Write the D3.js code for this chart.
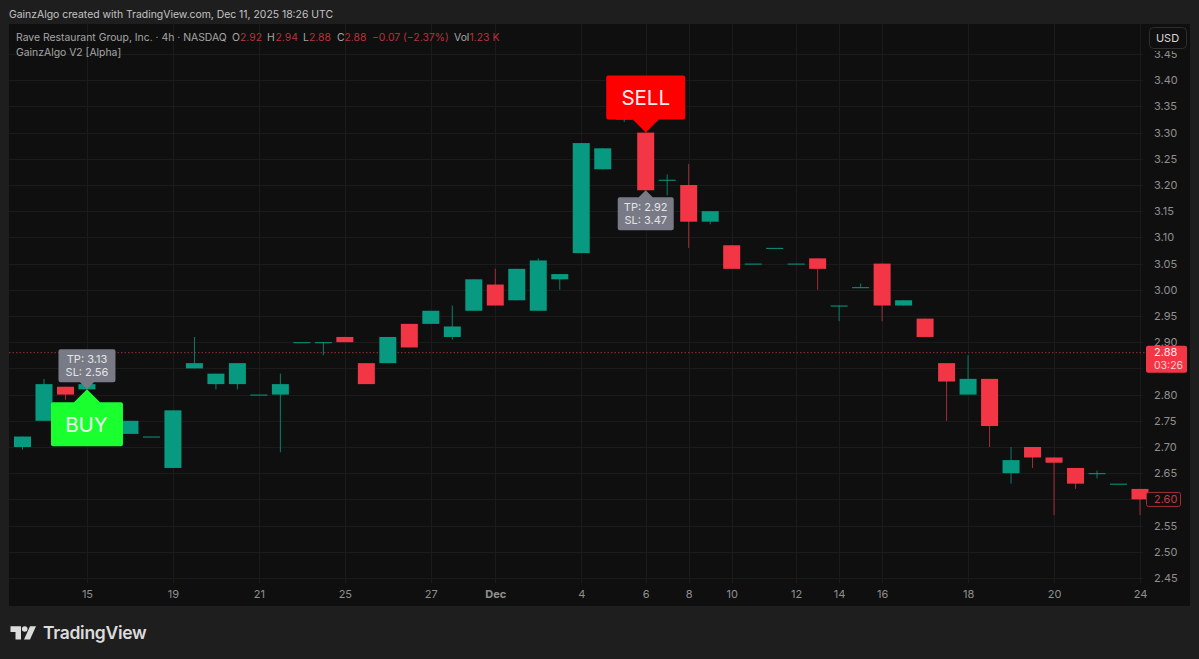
<!DOCTYPE html>
<html>
<head>
<meta charset="utf-8">
<script src="https://cdn.jsdelivr.net/npm/d3@7"></script>
<style>
html, body { margin: 0; padding: 0; background: #1e1e1e; overflow: hidden; }
text { font-family: Inter, "Noto Sans", sans-serif; }
</style>
</head>
<body>
<div id="chart"></div>
<script>
// candles, left to right. bars 4 and 28 sit behind the BUY / SELL labels, so those are guesses
const opens = [2.70, 2.75, 2.815, 2.81, 2.72, 2.725, 2.72, 2.66, 2.85, 2.82, 2.82, 2.80, 2.80, 2.90, 2.90, 2.91, 2.86, 2.86, 2.935, 2.935, 2.91, 2.96, 3.01, 2.98, 2.96, 3.02, 3.07, 3.23, 3.325, 3.30, 3.21, 3.20, 3.13, 3.085, 3.05, 3.08, 3.05, 3.06, 2.97, 3.005, 3.05, 2.97, 2.945, 2.86, 2.80, 2.83, 2.65, 2.70, 2.68, 2.66, 2.65, 2.63, 2.62];
const highs = [2.72, 2.83, 2.815, 2.82, 2.76, 2.75, 2.72, 2.77, 2.91, 2.84, 2.86, 2.80, 2.84, 2.90, 2.90, 2.91, 2.86, 2.91, 2.935, 2.96, 2.97, 3.02, 3.04, 3.04, 3.06, 3.03, 3.28, 3.27, 3.33, 3.30, 3.22, 3.24, 3.15, 3.085, 3.05, 3.08, 3.05, 3.06, 2.97, 3.012, 3.05, 2.98, 2.945, 2.86, 2.875, 2.83, 2.70, 2.70, 2.68, 2.66, 2.655, 2.63, 2.62];
const lows = [2.695, 2.75, 2.79, 2.81, 2.72, 2.725, 2.72, 2.66, 2.85, 2.81, 2.81, 2.80, 2.69, 2.90, 2.875, 2.90, 2.82, 2.86, 2.89, 2.935, 2.905, 2.96, 2.97, 2.98, 2.96, 3.00, 3.07, 3.23, 3.32, 3.19, 3.18, 3.08, 3.125, 3.04, 3.05, 3.08, 3.05, 3.00, 2.94, 3.005, 2.94, 2.97, 2.91, 2.75, 2.80, 2.70, 2.63, 2.66, 2.57, 2.62, 2.64, 2.63, 2.57];
const closes = [2.72, 2.82, 2.80, 2.82, 2.76, 2.75, 2.72, 2.77, 2.86, 2.84, 2.86, 2.80, 2.82, 2.90, 2.90, 2.90, 2.82, 2.91, 2.89, 2.96, 2.93, 3.02, 2.97, 3.04, 3.056, 3.03, 3.28, 3.27, 3.33, 3.19, 3.21, 3.13, 3.15, 3.04, 3.05, 3.08, 3.05, 3.04, 2.97, 3.005, 2.97, 2.98, 2.91, 2.825, 2.83, 2.74, 2.675, 2.68, 2.67, 2.63, 2.65, 2.63, 2.60];

const priceTicks = [3.45, 3.40, 3.35, 3.30, 3.25, 3.20, 3.15, 3.10, 3.05, 3.00, 2.95, 2.90, 2.85, 2.80, 2.75, 2.70, 2.65, 2.60, 2.55, 2.50, 2.45];
const hiddenPriceLabels = [2.85, 2.60]; // covered by the last-price tags
const timeTickBars = [3, 7, 11, 15, 19, 22, 26, 29, 31, 33, 36, 38, 40, 44, 48, 52];
const timeTickLabels = ['15', '19', '21', '25', '27', 'Dec', '4', '6', '8', '10', '12', '14', '16', '18', '20', '24'];

const lastPrice = 2.88;
const prevClose = 2.60;
const buyBar = 3;
const sellBar = 29;

const upColor = '#089981';
const downColor = '#f23645';

const width = 1199;
const height = 659;

const svg = d3.select('#chart').append('svg')
    .attr('width', width)
    .attr('height', height)
    .style('display', 'block');

svg.append('rect').attr('width', width).attr('height', height).attr('fill', '#1e1e1e');
svg.append('rect').attr('x', 9).attr('y', 24).attr('width', 1181).attr('height', 582).attr('fill', '#0f0f0f');

const x = d3.scaleLinear().domain([0, 52]).range([22.5, 1140]);
const y = d3.scaleLinear().domain([2.45, 3.45]).range([578, 54]);

const plotLeft = 9, plotRight = 1143, plotTop = 24, plotBottom = 583;

// grid
const grid = svg.append('g').attr('stroke', '#1b1b1b').attr('stroke-width', 1);
grid.selectAll('.h').data(priceTicks).enter().append('line')
    .attr('x1', plotLeft).attr('x2', plotRight)
    .attr('y1', d => Math.round(y(d)) + 0.5).attr('y2', d => Math.round(y(d)) + 0.5);
grid.selectAll('.v').data(timeTickBars).enter().append('line')
    .attr('y1', plotTop).attr('y2', plotBottom)
    .attr('x1', d => Math.round(x(d)) + 0.5).attr('x2', d => Math.round(x(d)) + 0.5);

// last price dotted line
svg.append('line')
    .attr('x1', plotLeft).attr('x2', 1146)
    .attr('y1', y(lastPrice)).attr('y2', y(lastPrice))
    .attr('stroke', '#94303a').attr('stroke-width', 1).attr('stroke-dasharray', '1.5 2');

// candles
const bars = d3.range(opens.length);
const barColor = i => closes[i] >= opens[i] ? upColor : downColor;
const bodyWidth = 17;

svg.append('g').selectAll('line').data(bars).enter().append('line')
    .attr('x1', i => x(i)).attr('x2', i => x(i))
    .attr('y1', i => y(highs[i])).attr('y2', i => y(lows[i]))
    .attr('stroke', i => closes[i] >= opens[i] ? '#0b7d6b' : '#a52d38')
    .attr('stroke-width', 1);

svg.append('g').selectAll('rect').data(bars).enter().append('rect')
    .attr('x', i => x(i) - bodyWidth / 2)
    .attr('width', bodyWidth)
    .attr('y', i => y(Math.max(opens[i], closes[i])))
    .attr('height', i => Math.max(1, Math.abs(y(opens[i]) - y(closes[i]))))
    .attr('fill', barColor);

// price axis
const priceAxis = d3.axisRight(y)
    .tickValues(priceTicks.filter(d => !hiddenPriceLabels.includes(d)))
    .tickFormat(d3.format('.2f'))
    .tickSize(0)
    .tickPadding(0);
const priceG = svg.append('g').attr('transform', 'translate(1154,0)').call(priceAxis);
priceG.select('.domain').remove();
priceG.selectAll('text').attr('fill', '#8f8f8f').style('font-size', '11px');

// time axis
const timeAxis = d3.axisBottom(x)
    .tickValues(timeTickBars)
    .tickFormat(d => timeTickLabels[timeTickBars.indexOf(d)])
    .tickSize(0)
    .tickPadding(0);
const timeG = svg.append('g').attr('transform', 'translate(0,590)').call(timeAxis);
timeG.select('.domain').remove();
timeG.selectAll('text').attr('fill', '#8f8f8f').style('font-size', '11px')
    .style('font-weight', d => d === 22 ? 700 : 400);

// rounded box with a triangular pointer, pointer tip at (cx, tipY)
function callout(cx, tipY, boxW, boxH, pointH, pointW, up, fill) {
    const r = 2;
    const l = cx - boxW / 2, rt = cx + boxW / 2;
    const top = up ? tipY + pointH : tipY - pointH - boxH;
    const bot = top + boxH;
    const path = up
        ? `M${l + r},${top}L${cx - pointW},${top}L${cx},${tipY}L${cx + pointW},${top}L${rt - r},${top}Q${rt},${top} ${rt},${top + r}L${rt},${bot - r}Q${rt},${bot} ${rt - r},${bot}L${l + r},${bot}Q${l},${bot} ${l},${bot - r}L${l},${top + r}Q${l},${top} ${l + r},${top}Z`
        : `M${l + r},${top}L${rt - r},${top}Q${rt},${top} ${rt},${top + r}L${rt},${bot - r}Q${rt},${bot} ${rt - r},${bot}L${cx + pointW},${bot}L${cx},${tipY}L${cx - pointW},${bot}L${l + r},${bot}Q${l},${bot} ${l},${bot - r}L${l},${top + r}Q${l},${top} ${l + r},${top}Z`;
    svg.append('path').attr('d', path).attr('fill', fill);
    return { top, bot };
}

function calloutText(cx, cy, str, size, color, anchor) {
    return svg.append('text').attr('x', cx).attr('y', cy)
        .attr('text-anchor', anchor || 'middle').attr('dominant-baseline', 'central')
        .attr('fill', color).style('font-size', size + 'px').text(str);
}

// BUY
const buyBox = callout(x(buyBar), y(2.81), 72, 44, 13, 13, true, '#1aff2e');
calloutText(x(buyBar) - 0.5, (buyBox.top + buyBox.bot) / 2, 'BUY', 20.5, '#e9ffe9');
const buyTip = callout(x(buyBar), y(2.81), 57, 33, 7, 7, false, '#787b86');
calloutText(x(buyBar), buyTip.top + 10, 'TP: 3.13', 11, '#e4e4e6');
calloutText(x(buyBar), buyTip.top + 22.5, 'SL: 2.56', 11, '#e4e4e6');

// SELL
const sellBox = callout(x(sellBar), y(3.30), 79, 44, 13, 13, false, '#ff0000');
calloutText(x(sellBar), (sellBox.top + sellBox.bot) / 2, 'SELL', 20.5, '#ffecec');
const sellTip = callout(x(sellBar), y(3.19), 56, 33, 7, 7, true, '#787b86');
calloutText(x(sellBar), sellTip.top + 10, 'TP: 2.92', 11, '#e4e4e6');
calloutText(x(sellBar), sellTip.top + 22.5, 'SL: 3.47', 11, '#e4e4e6');

// last price tags
svg.append('rect').attr('x', 1146).attr('y', y(lastPrice) - 7).attr('width', 41).attr('height', 27).attr('rx', 2).attr('fill', '#f23645');
calloutText(1154, y(lastPrice) - 0.5, d3.format('.2f')(lastPrice), 11, '#fde9ea', 'start');
calloutText(1154, y(lastPrice) + 12.5, '03:26', 10.5, '#fbd0d3', 'start');
svg.append('rect').attr('x', 1146.5).attr('y', y(prevClose) - 7).attr('width', 34).attr('height', 14).attr('rx', 2)
    .attr('fill', '#0f0f0f').attr('stroke', '#a52d38');
calloutText(1154, y(prevClose), d3.format('.2f')(prevClose), 11, '#c23a44', 'start');

// USD button, its backing cuts the top of the 3.45 label
svg.append('rect').attr('x', 1147).attr('y', 25).attr('width', 42).attr('height', 26).attr('fill', '#0f0f0f');
svg.append('rect').attr('x', 1149.5).attr('y', 27.5).attr('width', 37).attr('height', 21).attr('rx', 4)
    .attr('fill', '#0f0f0f').attr('stroke', '#2e2e2e');
calloutText(1167.5, 38, 'USD', 11, '#d8d8d8');

// header
svg.append('text').attr('x', 9).attr('y', 18).attr('fill', '#c4c4c4').style('font-size', '10.4px')
    .text('GainzAlgo created with TradingView.com, Dec 11, 2025 18:26 UTC');

const legendParts = [
    ['Rave Restaurant Group, Inc. · 4h · NASDAQ', '#a6a6a6', 16],
    ['O', '#a6a6a6', 232],
    ['2.92', '#b8323d', 240],
    ['H', '#a6a6a6', 267],
    ['2.94', '#b8323d', 275.5],
    ['L', '#a6a6a6', 303],
    ['2.88', '#b8323d', 309],
    ['C', '#a6a6a6', 337],
    ['2.88', '#b8323d', 344.5],
    ['−0.07 (−2.37%)', '#b8323d', 372],
    ['Vol', '#a6a6a6', 454],
    ['1.23 K', '#b8323d', 469.5]
];
svg.append('g').selectAll('text').data(legendParts).enter().append('text')
    .attr('x', d => d[2]).attr('y', 41)
    .attr('fill', d => d[1]).style('font-size', '10.4px')
    .text(d => d[0]);
svg.append('text').attr('x', 16).attr('y', 56).attr('fill', '#a6a6a6').style('font-size', '10.4px')
    .text('GainzAlgo V2 [Alpha]');

// TradingView logo
const logo = svg.append('g').attr('fill', '#dcdcdc').attr('transform', 'translate(10,626)');
logo.append('path').attr('d', 'M0.5,0.3H11V13.5H5.5V6H0.5Z');
logo.append('circle').attr('cx', 14.7).attr('cy', 3).attr('r', 2.8);
logo.append('path').attr('d', 'M20,0.3H26L20,13.5H14Z');
svg.append('text').attr('x', 43).attr('y', 639).attr('fill', '#dcdcdc')
    .style('font-size', '17.5px').style('font-weight', 600).style('letter-spacing', '-0.3px')
    .text('TradingView');
</script>
</body>
</html>
